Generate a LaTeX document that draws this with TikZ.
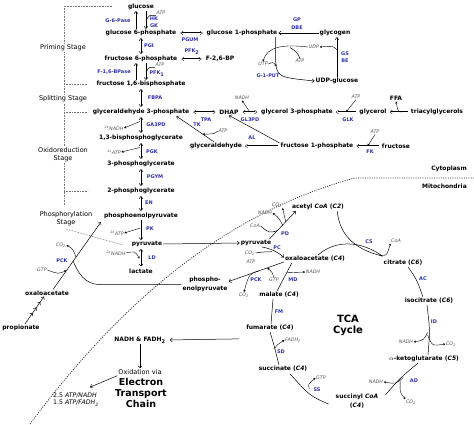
\documentclass[tikz,border=0pt]{standalone}
\usepackage{fontspec}
\setmainfont{DejaVu Sans}
\usetikzlibrary{arrows.meta,calc,decorations.markings}
\definecolor{enzblue}{RGB}{48,48,170}
\definecolor{cofgray}{RGB}{85,85,85}
\tikzset{
 met/.style={font=\bfseries\fontsize{6}{8.5}\selectfont, inner sep=1pt, align=center},
 enz/.style={text=enzblue, font=\bfseries\fontsize{5}{5}\selectfont, inner sep=0.5pt},
 cof/.style={text=cofgray, font=\itshape\fontsize{4.8}{5}\selectfont, inner sep=0.5pt},
 stagelbl/.style={font=\fontsize{6.5}{8.5}\selectfont, fill=white, align=center, inner sep=1pt},
 arr/.style={-{Straight Barb[length=2.2pt,width=4pt]}, line width=0.5pt},
 darr/.style={{Straight Barb[length=2.2pt,width=4pt]}-{Straight Barb[length=2.2pt,width=4pt]}, line width=0.5pt, shorten <=1pt, shorten >=1pt},
 dbl/.style={double, double distance=1pt, line width=0.35pt, arrows={Implies-Implies}, shorten <=3pt, shorten >=3pt},
 dbll/.style={double, double distance=1pt, line width=0.35pt, arrows={-Implies}, shorten <=2pt, shorten >=2pt},
 lnk/.style={line width=0.5pt},
 sarr/.style={-{Stealth[length=2.2pt,width=2.2pt]}, line width=0.4pt},
 tri/.style={-{Triangle[length=2pt,width=2.2pt]}, line width=0.4pt},
 stagedot/.style={dash pattern=on 0.7pt off 0.9pt, line width=0.6pt, black!55},
 mitodot/.style={dash pattern=on 1pt off 1.3pt, line width=0.8pt, black!80},
 multi/.style={-{Straight Barb[length=2.2pt,width=4pt]}, line width=0.5pt, postaction={decorate},
   decoration={markings,
     mark=at position 0.4 with {\arrow{Straight Barb[length=2.2pt,width=4pt]}},
     mark=at position 0.6 with {\arrow{Straight Barb[length=2.2pt,width=4pt]}},
     mark=at position 0.8 with {\arrow{Straight Barb[length=2.2pt,width=4pt]}}}},
}
\begin{document}
\begin{tikzpicture}[x=1pt,y=-1pt]
\useasboundingbox (0,0) rectangle (474,424);
% stage brackets
\draw[stagedot] (112,6) -- (64,6) -- (64,205);
\draw[stagedot] (64,84) -- (88,84);
\draw[stagedot] (64,112) -- (88,112);
\draw[stagedot] (64,191) -- (88,191);
\draw[stagedot] (66,229) -- (123,245);
% cytoplasm / mitochondria boundary
\draw[mitodot] (30,424) .. controls (100,330) and (205,218) .. (355,178) -- (474,178);

% stage labels
\node[stagelbl] (priming) at (63,48) {Priming Stage};
\node[stagelbl] (splitting) at (63,99) {Splitting Stage};
\node[stagelbl] (oxred) at (63,154.5) {Oxidoreduction\\Stage};
\node[stagelbl] (phosph) at (66,218.5) {Phosphorylation\\Stage};

% metabolites
\node[met] (glc) at (141,7) {glucose};
\node[met] (g6p) at (141,33) {glucose 6-phosphate};
\node[met] (g1p) at (242,33) {glucose 1-phosphate};
\node[met] (glycogen) at (335,33) {glycogen};
\node[met] (udpglc) at (337,81) {UDP-glucose};
\node[met] (f6p) at (141,59) {fructose 6-phosphate};
\node[met] (f26bp) at (220,59) {F-2,6-BP};
\node[met] (f16bp) at (141,84) {fructose 1,6-bisphosphate};
\node[met] (gap) at (141,112) {glyceraldehyde 3-phosphate};
\node[met] (dhap) at (229,112) {DHAP};
\node[met] (gro3p) at (297,112) {glycerol 3-phosphate};
\node[met] (glycerol) at (373,112) {glycerol};
\node[met] (tag) at (437,112) {triacylglycerols};
\node[met] (ffa) at (396,98) {FFA};
\node[met] (bpg) at (141,138) {1,3-bisphosphoglycerate};
\node[met] (glyald) at (216,146) {glyceraldehyde};
\node[met] (f1p) at (317,146) {fructose 1-phosphate};
\node[met] (fru) at (396,146) {fructose};
\node[met] (pg3) at (141,164) {3-phosphoglycerate};
\node[met] (pg2) at (141,191) {2-phosphoglycerate};
\node[met] (pep) at (141,216) {phosphoenolpyruvate};
\node[met] (pyr) at (147,244) {pyruvate};
\node[met] (lac) at (141,271) {lactate};
\node[met] (oaac) at (47,293) {oxaloacetate};
\node[met] (prop) at (21,328) {propionate};
\node[met] (pyrm) at (256,243) {pyruvate};
\node[met] (acoa) at (318,207) {acetyl \textit{CoA} (\textit{C2})};
\node[met] (oaam) at (315,259) {oxaloacetate (\textit{C4})};
\node[met] (pepm) at (205,284.5) {phospho-\\enolpyruvate};
\node[met] (mal) at (279,295) {malate (\textit{C4})};
\node[met] (fum) at (270,328) {fumarate (\textit{C4})};
\node[met] (succ) at (283,369) {succinate (\textit{C4})};
\node[met] (sucoa) at (357,401) {succinyl \textit{CoA}\\(\textit{C4})};
\node[met] (akg) at (424,359) {$\alpha$-ketoglutarate (\textit{C5})};
\node[met] (iso) at (429,301) {isocitrate (\textit{C6})};
\node[met] (cit) at (403,263) {citrate (\textit{C6})};
\node[met] (nadhf) at (140,340) {NADH \& FADH\textsubscript{2}};
\node[font=\fontsize{6.5}{7}\selectfont, inner sep=1pt] (oxid) at (140,372) {Oxidation via};
\node[font=\bfseries\fontsize{9.5}{11}\selectfont, align=center, inner sep=1pt] (etc) at (141,393) {Electron\\Transport\\Chain};
\node[font=\fontsize{6.2}{7.5}\selectfont, align=left, anchor=west, inner sep=1pt] (yield) at (52,399.5) {2.5 \textit{ATP/NADH}\\1.5 \textit{ATP/FADH\textsubscript{2}}};
\node[font=\bfseries\fontsize{10}{11}\selectfont, align=center, inner sep=1pt] (tca) at (348,325.5) {TCA\\Cycle};
\node[met, anchor=east] (cyto) at (468,169) {Cytoplasm};
\node[met, anchor=east] (mito) at (468,186) {Mitochondria};

% enzymes
\node[enz] at (118,21) {G-6-Pase};
\node[enz] at (154,19) {HK};
\node[enz] at (154,25.5) {GK};
\node[enz] at (190,40) {PGUM};
\node[enz] at (297,20) {GP};
\node[enz] at (297,27.5) {DBE};
\node[enz] at (345,54) {GS};
\node[enz] at (345,61) {BE};
\node[enz] at (268,76) {G-1-PUT};
\node[enz] at (149,46) {PGI};
\node[enz] at (192,52) {PFK\textsubscript{2}};
\node[enz] at (114,72) {F-1,6-BPase};
\node[enz] at (157,74) {PFK\textsubscript{1}};
\node[enz] at (155,98) {FBPA};
\node[enz] at (206,120) {TPA};
\node[enz] at (250,120) {GL3PD};
\node[enz] at (348,120) {GLK};
\node[enz] at (156,125) {GA3PD};
\node[enz] at (197,125) {TK};
\node[enz] at (252,138) {AL};
\node[enz] at (370,152) {FK};
\node[enz] at (152,152) {PGK};
\node[enz] at (155,177) {PGYM};
\node[enz] at (149,203) {EN};
\node[enz] at (150,229) {PK};
\node[enz] at (152,258) {LD};
\node[enz] at (62,261) {PCK};
\node[enz] at (285,234) {PD};
\node[enz] at (277,248) {PC};
\node[enz] at (293,280) {MD};
\node[enz] at (256,280) {PCK};
\node[enz] at (369,242) {CS};
\node[enz] at (423,279) {AC};
\node[enz] at (434,322) {ID};
\node[enz] at (414,381) {AD};
\node[enz] at (317,390) {SS};
\node[enz] at (281,352) {SD};
\node[enz] at (279,312) {FM};

% cofactors
\node[cof] (atp1) at (161,13) {ATP};
\node[cof] (atp4) at (160,65) {ATP};
\node[cof] (udp) at (314,47) {UDP};
\node[cof] (atp2) at (300,61) {ATP};
\node[cof] (utp) at (263,64) {UTP};
\node[cof] (nadh1) at (242,98) {NADH};
\node[cof] (atp3) at (356,97) {ATP};
\node[cof] (atp6) at (223,131) {ATP};
\node[cof] (atp5) at (375,132) {ATP};
\node[cof] (nadh2) at (114,128) {\textsuperscript{2x}NADH};
\node[cof] (atp7) at (114,152) {\textsuperscript{2x}ATP};
\node[cof] (atp8) at (117,233) {\textsuperscript{2x}ATP};
\node[cof] (nadh3) at (116,253) {\textsuperscript{2x}NADH};
\node[cof] (co2c) at (61,245) {CO\textsubscript{2}};
\node[cof] (gtpc) at (42,270) {GTP};
\node[cof] (co2a) at (277,205) {CO\textsubscript{2}};
\node[cof] (nadh5) at (265,213) {NADH};
\node[cof] (coa1) at (255,226) {CoA};
\node[cof] (co2b) at (250,253) {CO\textsubscript{2}};
\node[cof] (atp9) at (251,262) {ATP};
\node[cof] (gtp2) at (274,280) {GTP};
\node[cof] (co2m3) at (244,295) {CO\textsubscript{2}};
\node[cof] (nadh6) at (313,272) {NADH};
\node[cof] (coa2) at (396,241) {CoA};
\node[cof] (nadh7) at (406,342) {NADH};
\node[cof] (co2m4) at (451,344) {CO\textsubscript{2}};
\node[cof] (nadh8) at (376,382) {NADH};
\node[cof] (co2m5) at (411,402) {CO\textsubscript{2}};
\node[cof] (gtp3) at (321,378) {GTP};
\node[cof] (fadh) at (293,340) {FADH\textsubscript{2}};

% glycolysis column
\draw[arr] ($(g6p.north)+(-5,0)$) -- ($(glc.south)+(-5,0)$);
\draw[arr] ($(glc.south)+(5,0)$) -- ($(g6p.north)+(5,0)$);
\draw[lnk] (atp1.south west) .. controls (149,15) .. ($(glc.south)!0.55!(g6p.north)+(5,0)$);
\draw[darr] (g6p.south) -- (f6p.north);
\draw[arr] ($(f6p.south)+(5,0)$) -- ($(f16bp.north)+(5,0)$);
\draw[arr] ($(f16bp.north)+(-5,0)$) -- ($(f6p.south)+(-5,0)$);
\draw[lnk] (atp4.south west) .. controls (149,67) .. ($(f6p.south)!0.55!(f16bp.north)+(5,0)$);
\draw[darr] (f16bp.south) -- (gap.north);
\draw[darr] (gap.south) -- (bpg.north);
\draw[tri] ($(gap.south)!0.3!(bpg.north)+(-1,0)$) -- (nadh2.east);
\draw[darr] (bpg.south) -- (pg3.north);
\draw[tri] ($(bpg.south)!0.3!(pg3.north)+(-1,0)$) -- (atp7.east);
\draw[darr] (pg3.south) -- (pg2.north);
\draw[darr] (pg2.south) -- (pep.north);
\draw[arr] (pep.south) -- (pep.south |- pyr.north);
\draw[tri] ($(pep.south)!0.4!(pep.south |- pyr.north)+(-1,0)$) -- (atp8.east);
\draw[darr] (pyr.south -| lac.north) -- (lac.north);
\draw[sarr] (nadh3.east) .. controls (135,251) .. ($(pyr.south -| lac.north)!0.55!(lac.north)+(-1.5,0)$);

% glycogen branch
\draw[dbl] (g6p.east) -- (g1p.west);
\draw[arr] (glycogen.west) -- (g1p.east);
\coordinate (gpa) at ($(g1p.south east)+(-3,0)$);
\coordinate (gpb) at ($(gpa)+(0,20)$);
\draw[arr] (gpa) -- (gpb) .. controls ($(gpb)+(1,20)$) .. (udpglc.west);
\draw[arr] (udpglc.north) -- (udpglc.north |- glycogen.south);
\draw[sarr] ($(udpglc.north)!0.68!(udpglc.north |- glycogen.south)$) .. controls +(-4,-4) .. (udp.east);
\draw[sarr] (udp.west) .. controls (282,44) and (267,47) .. (utp.north);
\draw[lnk] (atp2.north) .. controls (297,52) .. (290,47.5);
\draw[sarr] (utp.east) .. controls (273,62) .. (276.5,66);

% fructose / triose branch
\draw[dbl] (f6p.east) -- (f26bp.west);
\draw[dbl] (gap.east) -- (dhap.west);
\draw[dbl] (dhap.east) -- (gro3p.west);
\draw[sarr] ($(dhap.east)!0.5!(gro3p.west)$) -- (nadh1.south);
\draw[dbll] (glycerol.west) -- (gro3p.east);
\draw[tri] (atp3.south) -- ($(glycerol.west)!0.5!(gro3p.east)$);
\draw[dbll] (tag.west) -- (glycerol.east);
\draw[sarr] ($(tag.west)!0.35!(glycerol.east)$) .. controls +(-4,0) .. (ffa.south);
\draw[dbll] (f1p.west) -- (glyald.east);
\draw[dbll] (fru.west) -- (f1p.east);
\draw[tri] (atp5.south) -- ($(fru.west)!0.5!(f1p.east)$);
\draw[arr] ($(f1p.north west)+(0,1)$) -- (dhap.south);
\coordinate (tkA) at ($(glyald.north)+(-2,0)$);
\coordinate (tkB) at ($(gap.south east)+(-14,0)$);
\draw[arr] (tkA) -- (tkB);
\draw[sarr] (atp6.west) .. controls (214,134) .. ($(tkA)!0.3!(tkB)$);

% cytoplasm to mitochondria
\draw[arr] (pyr.east) -- (pyrm.west);
\coordinate (pdA) at ($(pyrm.north east)+(-3,0)$);
\coordinate (pdB) at ($(acoa.south west)+(5,0)$);
\draw[arr] (pdA) -- (pdB);
\draw[lnk] (coa1.east) .. controls (269,233) .. ($(pdA)!0.3!(pdB)$);
\draw[sarr] ($(pdA)!0.5!(pdB)$) .. controls (279,218) .. (nadh5.east);
\draw[sarr] ($(pdA)!0.62!(pdB)$) -- (co2a.south east);
\coordinate (pcA) at ($(pyrm.south)+(6,0)$);
\coordinate (pcB) at ($(oaam.west)+(0,-1.5)$);
\draw[arr] (pcA) .. controls (272,249) and (278,252) .. (pcB);
\draw[lnk] (co2b.east) .. controls (262,252) .. ($(pcA)!0.45!(pcB)$);
\coordinate (pckA) at ($(oaam.west)+(0,3)$);
\coordinate (pckB) at ($(pepm.east)+(0,-3)$);
\draw[arr] (pckA) -- (pckB);
\draw[tri] (gtp2.north) .. controls (272,272) .. ($(pckA)!0.3!(pckB)$);
\draw[sarr] ($(pckA)!0.45!(pckB)$) .. controls (249,274) .. (co2m3.north);
\coordinate (mdA) at ($(mal.north)+(-2,0)$);
\coordinate (mdB) at ($(oaam.south west)+(8,0)$);
\draw[lnk] (mdA) -- (mdB);
\draw[sarr] ($(mdA)!0.65!(mdB)$) -- (nadh6.west);

% PCK in cytoplasm and PEP return
\coordinate (cpA) at ($(oaac.north)+(6,0)$);
\coordinate (cpB) at ($(pep.south west)+(-2,2)$);
\draw[arr] (cpA) -- (cpB);
\draw[tri] (gtpc.east) .. controls (58,274) .. ($(cpA)!0.28!(cpB)$);
\draw[sarr] ($(cpA)!0.48!(cpB)$) .. controls (73,249) .. (co2c.east);
\draw[lnk] (pepm.west) -- (100,284.5) .. controls (84,284.5) and (78,272) .. ($(cpA)!0.42!(cpB)$);
\draw[multi] ($(prop.north)+(4,0)$) -- ($(oaac.south)+(-3,0)$);

% TCA cycle
\coordinate (citin) at ($(cit.north west)+(0,-3)$);
\draw[lnk] ($(acoa.south east)+(-8,0)$) .. controls (340,238) and (358,250) .. (citin);
\draw[lnk] ($(oaam.north)+(3,0)$) .. controls (335,240) and (360,240) .. (citin);
\draw[sarr] ($(citin)+(-3,-1)$) .. controls +(7,1) .. (coa2.south west);
\draw[lnk] ($(cit.south)+(5,0)$) .. controls (417,280) .. ($(iso.north)+(-6,0)$);
\coordinate (idA) at ($(iso.south)+(-2,0)$);
\coordinate (idB) at ($(akg.north)+(4,0)$);
\draw[lnk] (idA) .. controls (430,330) .. (idB);
\draw[sarr] ($(idA)!0.55!(idB)$) .. controls (424,340) .. (nadh7.east);
\draw[sarr] ($(idA)!0.6!(idB)$) .. controls (432,346) .. (co2m4.west);
\coordinate (adA) at ($(akg.south)+(-6,0)$);
\coordinate (adB) at ($(sucoa.north east)+(6,2)$);
\draw[lnk] (adA) .. controls (400,378) .. (adB);
\draw[sarr] ($(adA)!0.45!(adB)$) .. controls (396,384) .. (nadh8.east);
\draw[sarr] ($(adA)!0.55!(adB)$) .. controls (400,393) .. (co2m5.north west);
\coordinate (ssA) at ($(sucoa.west)+(-6,3)$);
\coordinate (ssB) at ($(succ.south)+(7,1)$);
\draw[lnk] (ssA) .. controls (310,396) .. (ssB);
\draw[sarr] ($(ssA)!0.5!(ssB)$) .. controls (308,384) .. (gtp3.west);
\coordinate (sdA) at ($(succ.north)+(-4,0)$);
\coordinate (sdB) at (fum.south);
\draw[lnk] (sdA) .. controls (274,345) .. (sdB);
\draw[sarr] ($(sdA)!0.5!(sdB)$) .. controls +(3,-4) .. (fadh.west);
\draw[lnk] ($(fum.north)+(1,0)$) -- ($(mal.south)+(-6,0)$);

% electron transport
\draw[arr, shorten >=3pt] ($(fum.south west)+(-6,7)$) -- (nadhf.east);
\draw[arr] (nadhf.south) -- (oxid.north);
\draw[arr] (oxid.south west) -- ($(yield.north west)+(38,-4.5)$);
\end{tikzpicture}
\end{document}
